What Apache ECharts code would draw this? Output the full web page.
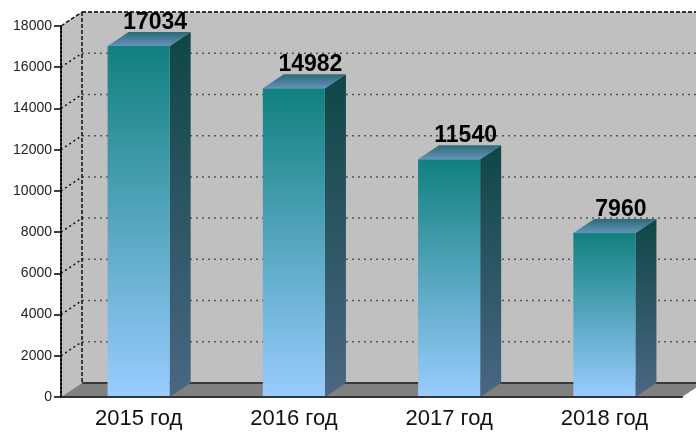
<!DOCTYPE html>
<html>
<head>
<meta charset="utf-8">
<script src="https://cdn.jsdelivr.net/npm/echarts@6/dist/echarts.min.js"></script>
<style>
html, body { margin: 0; padding: 0; background: #fff; }
#chart { width: 696px; height: 434px; }
</style>
</head>
<body>
<div id="chart"></div>
<script>
const years = ['2015 год', '2016 год', '2017 год', '2018 год'];
const counts = [17034, 14982, 11540, 7960];
const yTicks = [0, 2000, 4000, 6000, 8000, 10000, 12000, 14000, 16000, 18000];

const DX = 21, DY = 14; // depth of the fake 3d
const FONT = '"Liberation Sans", Arial, sans-serif';

const grad = (x, y, x2, y2, c0, c1) => new echarts.graphic.LinearGradient(x, y, x2, y2, [
    {offset: 0, color: c0},
    {offset: 1, color: c1}
]);

// back wall, left wall, floor and grid lines
const renderWall = (params, api) => {
    const cs = params.coordSys;
    const left = cs.x, right = cs.x + cs.width;
    const top = cs.y, bottom = cs.y + cs.height;
    const children = [];
    children.push({type: 'polygon', shape: {points: [[left + DX, top - DY], [right + DX, top - DY], [right + DX, bottom - DY], [left + DX, bottom - DY]]}, style: {fill: '#c0c0c0'}});
    children.push({type: 'polygon', shape: {points: [[left, top], [left + DX, top - DY], [left + DX, bottom - DY], [left, bottom]]}, style: {fill: '#c0c0c0'}});
    children.push({type: 'polygon', shape: {points: [[left, bottom], [left + DX, bottom - DY], [right + DX, bottom - DY], [right, bottom]]}, style: {fill: '#808080'}});
    children.push({type: 'line', shape: {x1: left + DX, y1: bottom - DY, x2: right + DX, y2: bottom - DY}, style: {stroke: '#3a3a3a', lineWidth: 2}});
    const maxTick = yTicks[yTicks.length - 1];
    for (let v of yTicks) {
        if (v === 0) continue;
        const y = api.coord([0, v])[1];
        const last = v === maxTick;
        children.push({type: 'line', shape: {x1: left + DX, y1: y - DY, x2: right + DX, y2: y - DY},
            style: {stroke: last ? '#333' : '#555', lineWidth: last ? 2 : 1.5, lineDash: last ? [4, 2] : [2, 4]}});
        children.push({type: 'line', shape: {x1: left, y1: y, x2: left + DX, y2: y - DY},
            style: {stroke: '#111', lineWidth: 1.5, lineDash: last ? [4, 2] : [2, 3]}});
    }
    children.push({type: 'line', shape: {x1: left + DX, y1: top - DY, x2: left + DX, y2: bottom - DY},
        style: {stroke: '#111', lineWidth: 1.5, lineDash: [4, 2]}});
    return {type: 'group', children};
};

const renderBar = (params, api) => {
    const i = api.value(0), v = api.value(1);
    const topPt = api.coord([i, v]);
    const basePt = api.coord([i, 0]);
    const w = api.size([1, 0])[0] * 0.4;
    const x0 = topPt[0] - w / 2, x1 = topPt[0] + w / 2;
    const y0 = topPt[1], y1 = basePt[1];
    return {
        type: 'group',
        children: [
            {type: 'polygon', shape: {points: [[x1, y0], [x1 + DX, y0 - DY], [x1 + DX, y1 - DY], [x1, y1]]},
                style: {fill: grad(0, 0, 0, 1, '#0f4646', '#4a6783')}},
            {type: 'rect', shape: {x: x0, y: y0, width: w, height: y1 - y0},
                style: {fill: grad(0, 0, 0, 1, '#11807e', '#99ccff')}},
            {type: 'polygon', shape: {points: [[x0, y0], [x0 + DX, y0 - DY], [x1 + DX, y0 - DY], [x1, y0]]},
                style: {fill: grad(0, 0, 0, 1, '#2c6a76', '#6592bb')}},
            {type: 'text', style: {text: String(v), x: topPt[0] + DX / 2 + 6, y: y0 - DY + 2,
                align: 'center', verticalAlign: 'bottom', textAlign: 'center', textVerticalAlign: 'bottom',
                font: 'bold 23px ' + FONT, fill: '#000'}}
        ]
    };
};

const chart = echarts.init(document.getElementById('chart'));
chart.setOption({
    animation: false,
    backgroundColor: '#fff',
    grid: {left: 61, right: 14, top: 26, bottom: 37},
    xAxis: {
        type: 'category',
        data: years,
        z: 5,
        axisLine: {lineStyle: {color: '#333', width: 2}},
        axisTick: {length: 6, lineStyle: {color: '#333', width: 1.5}},
        axisLabel: {fontSize: 22, fontFamily: FONT, color: '#111', margin: 11}
    },
    yAxis: {
        type: 'value',
        min: 0,
        max: 18000,
        interval: 2000,
        z: 5,
        axisLine: {show: true, lineStyle: {color: '#000', width: 2, type: [2, 2]}},
        axisTick: {show: true, length: 7, lineStyle: {color: '#000', width: 1.5}},
        axisLabel: {fontSize: 14, fontFamily: FONT, color: '#222', margin: 9, formatter: v => String(v)},
        splitLine: {show: false}
    },
    series: [
        {
            type: 'custom',
            z: 1,
            silent: true,
            clip: false,
            renderItem: renderWall,
            data: [[0, 0]]
        },
        {
            type: 'custom',
            z: 2,
            clip: false,
            renderItem: renderBar,
            encode: {x: 0, y: 1},
            data: counts.map((v, i) => [i, v])
        }
    ]
});
</script>
</body>
</html>
